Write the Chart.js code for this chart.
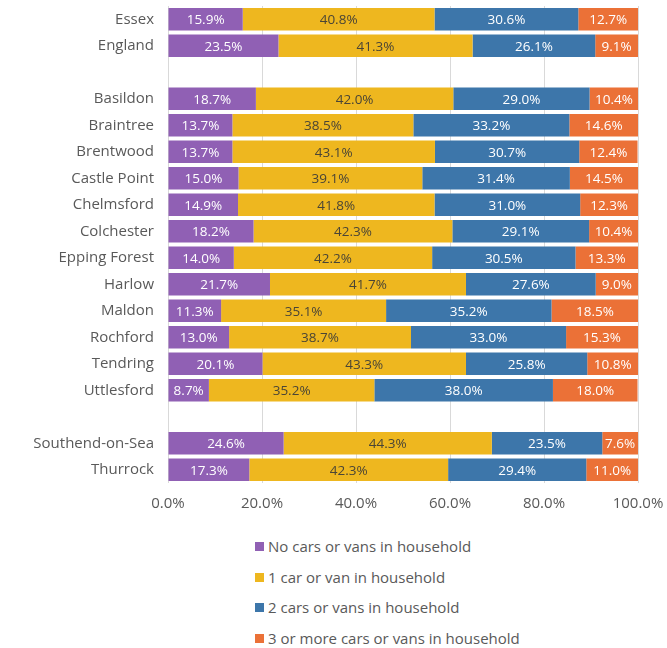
<!DOCTYPE html>
<html>
<head>
<meta charset="utf-8">
<script src="https://cdn.jsdelivr.net/npm/chart.js@4"></script>
<style>
  body { margin: 0; background: #fff; font-family: "Open Sans", sans-serif; overflow: hidden; }
  #wrap { position: relative; width: 667px; height: 648px; overflow: hidden; }
  #chartBox { position: absolute; left: 0; top: -3px; width: 667px; height: 516px; }
  #legend { position: absolute; left: 255px; top: 534px; margin: 0; padding: 0; list-style: none; }
  #legend li { height: 30.5px; line-height: 24px; font-size: 15px; color: #595959; white-space: nowrap; }
  #legend span.box { display: inline-block; width: 9px; height: 9px; margin-right: 4px; vertical-align: 1px; }
</style>
</head>
<body>
<div id="wrap">
  <div id="chartBox"><canvas id="carChart"></canvas></div>
  <ul id="legend"></ul>
</div>
<script>
// areas, blank strings are the spacer rows
const areas = ["Essex", "England", "", "Basildon", "Braintree", "Brentwood", "Castle Point",
    "Chelmsford", "Colchester", "Epping Forest", "Harlow", "Maldon", "Rochford", "Tendring",
    "Uttlesford", "", "Southend-on-Sea", "Thurrock"];

const noCar = [15.9, 23.5, null, 18.7, 13.7, 13.7, 15.0, 14.9, 18.2, 14.0, 21.7, 11.3, 13.0, 20.1, 8.7, null, 24.6, 17.3];
const oneCar = [40.8, 41.3, null, 42.0, 38.5, 43.1, 39.1, 41.8, 42.3, 42.2, 41.7, 35.1, 38.7, 43.3, 35.2, null, 44.3, 42.3];
const twoCars = [30.6, 26.1, null, 29.0, 33.2, 30.7, 31.4, 31.0, 29.1, 30.5, 27.6, 35.2, 33.0, 25.8, 38.0, null, 23.5, 29.4];
const threePlus = [12.7, 9.1, null, 10.4, 14.6, 12.4, 14.5, 12.3, 10.4, 13.3, 9.0, 18.5, 15.3, 10.8, 18.0, null, 7.6, 11.0];

const seriesNames = ["No cars or vans in household", "1 car or van in household",
    "2 cars or vans in household", "3 or more cars or vans in household"];
const xTicks = [0, 20, 40, 60, 80, 100];

const colours = ["#9060b4", "#eeb71f", "#3d76aa", "#eb7137"];
const labelColours = ["#ffffff", "#4a4536", "#ffffff", "#ffffff"];

// draws the % values in the middle of each segment
const segmentLabels = {
    id: "segmentLabels",
    afterDatasetsDraw(chart) {
        const ctx = chart.ctx;
        ctx.save();
        ctx.font = "13.5px 'Open Sans'";
        ctx.textAlign = "center";
        ctx.textBaseline = "middle";
        chart.data.datasets.forEach((ds, i) => {
            const meta = chart.getDatasetMeta(i);
            meta.data.forEach((bar, j) => {
                const v = ds.data[j];
                if (v == null) return;
                ctx.fillStyle = labelColours[i];
                ctx.fillText(v.toFixed(1) + "%", (bar.x + bar.base) / 2, bar.y + 1);
            });
        });
        ctx.restore();
    }
};

const datasets = [noCar, oneCar, twoCars, threePlus].map((d, i) => ({
    label: seriesNames[i],
    data: d,
    backgroundColor: colours[i],
    barPercentage: 0.84,
    categoryPercentage: 1.0
}));

const chart = new Chart(document.getElementById("carChart"), {
    type: "bar",
    data: { labels: areas, datasets },
    options: {
        indexAxis: "y",
        responsive: true,
        maintainAspectRatio: false,
        animation: false,
        layout: { padding: { top: 0, right: 29, left: 0, bottom: 0 } },
        plugins: {
            legend: { display: false },
            tooltip: { enabled: false }
        },
        scales: {
            x: {
                stacked: true,
                min: 0,
                max: 100,
                afterBuildTicks: (scale) => { scale.ticks = xTicks.map(v => ({ value: v })); },
                ticks: {
                    callback: (v) => v.toFixed(1) + "%",
                    color: "#595959",
                    font: { family: "Open Sans", size: 15 },
                    padding: 0
                },
                // invisible tick marks give the gap under the plot
                grid: { color: "#d9d9d9", drawTicks: true, tickLength: 12, tickColor: "rgba(0,0,0,0)" },
                border: { display: false }
            },
            y: {
                stacked: true,
                afterFit: (scale) => { scale.width = 168; },
                ticks: {
                    color: "#595959",
                    font: { family: "Open Sans", size: 15 },
                    padding: 0,
                    autoSkip: false
                },
                grid: { drawOnChartArea: false, drawTicks: true, tickLength: 14, tickColor: "rgba(0,0,0,0)" },
                border: { display: false }
            }
        }
    },
    plugins: [segmentLabels]
});

// html legend, one item per line
const legendEl = document.getElementById("legend");
chart.data.datasets.forEach((ds) => {
    const li = document.createElement("li");
    li.innerHTML = `<span class="box" style="background:${ds.backgroundColor}"></span>${ds.label}`;
    legendEl.appendChild(li);
});
</script>
</body>
</html>
